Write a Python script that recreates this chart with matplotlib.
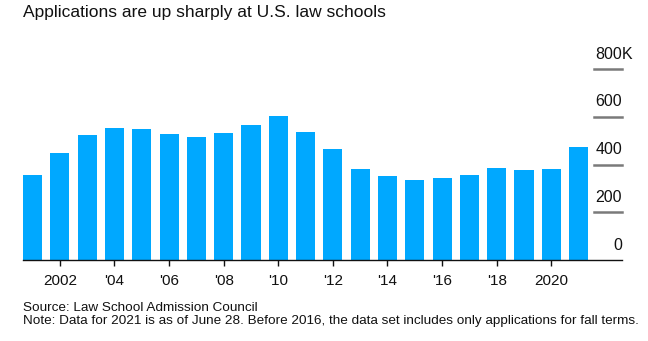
import matplotlib
matplotlib.use("Agg")
import matplotlib.pyplot as plt
import matplotlib.transforms as mtransforms

plt.rcParams["font.family"] = ["Liberation Sans", "DejaVu Sans"]

years = list(range(2001, 2022))
applications = [358, 449, 524, 553, 549, 528, 517, 532, 565, 603, 536,
                465, 382, 353, 336, 344, 357, 386, 378, 382, 474]
tickYears = [2002, 2004, 2006, 2008, 2010, 2012, 2014, 2016, 2018, 2020]
tickLabels = ["2002", "'04", "'06", "'08", "'10", "'12", "'14", "'16", "'18", "2020"]
yTicks = [0, 200, 400, 600, 800]
yLabels = ["0", "200", "400", "600", "800"]

fig = plt.figure(figsize=(6.48, 3.41), dpi=100)
ax = fig.add_axes([0.0355, 0.2375, 0.9244, 0.560])

ax.bar(years, applications, width=0.7, color="#00a8ff", zorder=2)

ax.set_xlim(2000.65, 2022.59)
ax.set_ylim(0, 800)

# short label lines on the right instead of full gridlines
trans = mtransforms.blended_transform_factory(ax.transAxes, ax.transData)
for v, lab in zip(yTicks, yLabels):
    if v > 0:
        ax.axhline(v, xmin=0.953, xmax=1.0, color="#7a7a7a", linewidth=1.8, clip_on=False)
    ax.text(1.0, v + 44, lab, transform=trans, ha="right", va="baseline",
            fontsize=11.5, color="#111111")
ax.text(1.0, 800 + 44, "K", transform=trans, ha="left", va="baseline",
        fontsize=11.5, color="#111111")

for s in ["top", "right", "left"]:
    ax.spines[s].set_visible(False)
ax.spines["bottom"].set_linewidth(1.0)
ax.spines["bottom"].set_color("#111111")
ax.set_yticks([])
ax.set_xticks(tickYears)
ax.set_xticklabels(tickLabels, fontsize=11, color="#111111")
ax.tick_params(axis="x", length=4, width=1, color="#111111", pad=6)

fig.text(23/648, 1 - 13/341, "Applications are up sharply at U.S. law schools",
         fontsize=12.5, color="#111111", va="center", ha="left")
fig.text(23/648, 1 - 308/341, "Source: Law School Admission Council",
         fontsize=9.7, color="#111111", va="center", ha="left")
fig.text(23/648, 1 - 321/341,
         "Note: Data for 2021 is as of June 28. Before 2016, the data set includes only applications for fall terms.",
         fontsize=9.7, color="#111111", va="center", ha="left")

fig.savefig("out.png", dpi=100)
